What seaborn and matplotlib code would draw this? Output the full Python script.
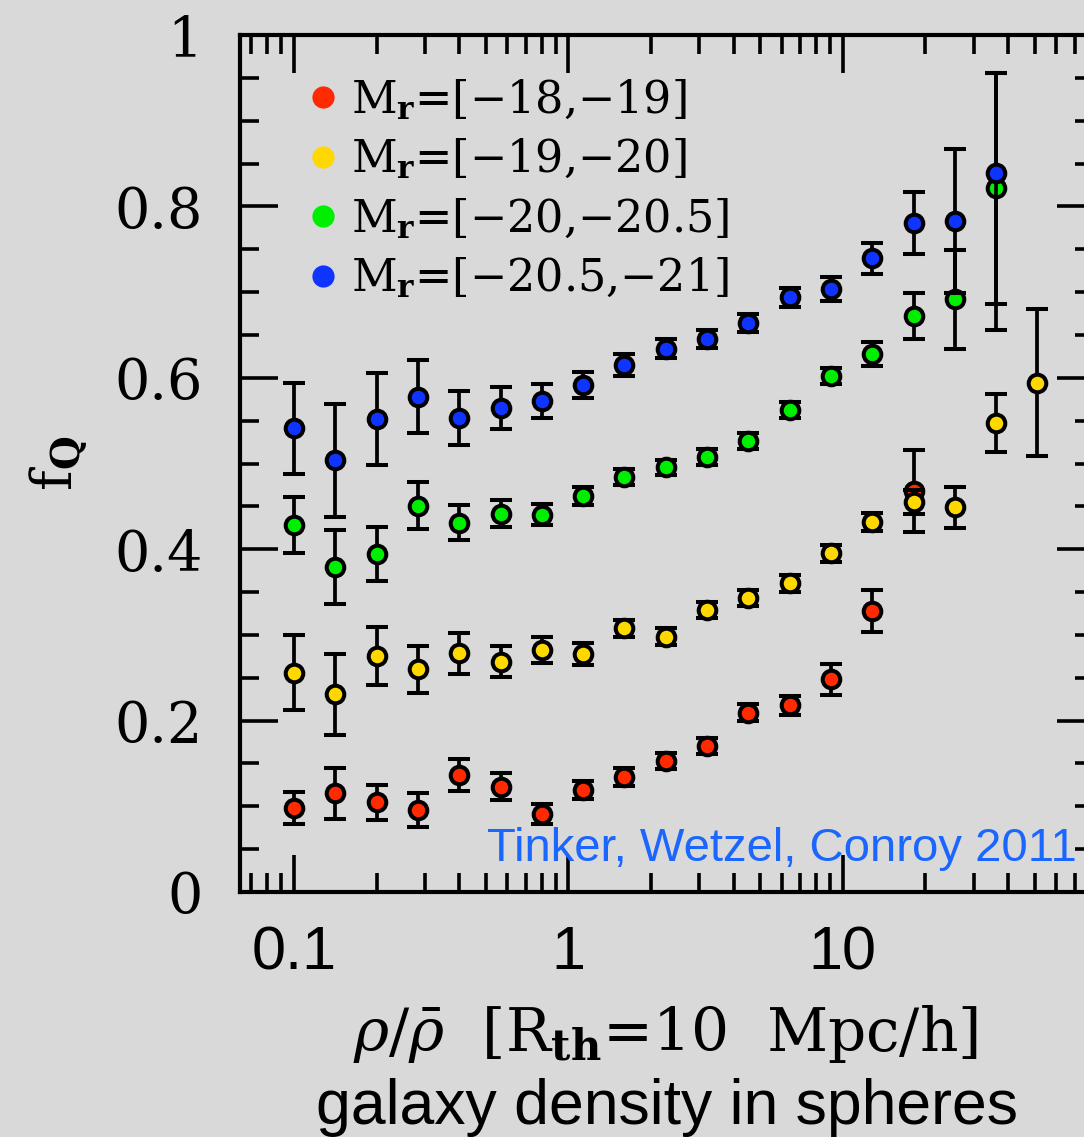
import matplotlib
matplotlib.use("Agg")
import matplotlib.pyplot as plt
import seaborn as sns
from matplotlib.lines import Line2D
from matplotlib.ticker import LogLocator, MultipleLocator, NullFormatter

# ---------------- data ----------------
density = [0.1, 0.141, 0.2, 0.283, 0.4, 0.566, 0.8, 1.13, 1.6, 2.26,
           3.2, 4.53, 6.4, 9.05, 12.8, 18.1, 25.6, 36.2, 51.2]

red_fq = [0.0975, 0.115, 0.1046, 0.0957, 0.1369, 0.1228, 0.0913, 0.119,
          0.1338, 0.1529, 0.1704, 0.2092, 0.2178, 0.248, 0.3283, 0.4676]
red_err = [0.0187, 0.0296, 0.0205, 0.0193, 0.0188, 0.016, 0.0114, 0.0101,
           0.0106, 0.0098, 0.0097, 0.0097, 0.0113, 0.0178, 0.0245, 0.0478]

yellow_fq = [0.256, 0.2306, 0.2754, 0.2598, 0.2785, 0.2684, 0.2827, 0.2777,
             0.3077, 0.2979, 0.329, 0.3433, 0.3601, 0.395, 0.432, 0.4546,
             0.4487, 0.547, 0.5943]
yellow_err = [0.0436, 0.0473, 0.0339, 0.0272, 0.0237, 0.0181, 0.0154, 0.0126,
              0.0098, 0.0099, 0.0097, 0.0094, 0.0098, 0.0099, 0.0105, 0.014,
              0.0237, 0.0337, 0.086]

green_fq = [0.4286, 0.3788, 0.3944, 0.4507, 0.431, 0.4416, 0.4404, 0.4624,
            0.4842, 0.4955, 0.5076, 0.5258, 0.5624, 0.6021, 0.6278, 0.6725,
            0.6915, 0.821]
green_err = [0.0325, 0.0432, 0.031, 0.0277, 0.0204, 0.016, 0.0127, 0.0104,
             0.0088, 0.0087, 0.0092, 0.0094, 0.009, 0.0091, 0.0141, 0.027,
             0.058, 0.135]

blue_fq = [0.541, 0.504, 0.5516, 0.578, 0.553, 0.5648, 0.5725, 0.592,
           0.615, 0.634, 0.645, 0.6643, 0.6938, 0.7036, 0.7393, 0.7806,
           0.783, 0.8386]
blue_err_lo = [0.0535, 0.066, 0.0538, 0.0425, 0.0318, 0.0245, 0.0197, 0.0153,
               0.0133, 0.0111, 0.0103, 0.0103, 0.0107, 0.0136, 0.0185, 0.0358,
               0.0836, 0.183]
blue_err_hi = [0.0535, 0.066, 0.0538, 0.0425, 0.0318, 0.0245, 0.0197, 0.0153,
               0.0133, 0.0111, 0.0103, 0.0103, 0.0107, 0.0136, 0.0185, 0.0358,
               0.0836, 0.117]

labels = [r"M$_{\mathbf{r}}$=[−18,−19]",
          r"M$_{\mathbf{r}}$=[−19,−20]",
          r"M$_{\mathbf{r}}$=[−20,−20.5]",
          r"M$_{\mathbf{r}}$=[−20.5,−21]"]
colors = ["#ff2a00", "#ffd800", "#00ee00", "#1034ff"]

xtick_vals = [0.1, 1, 10]
xtick_labels = ["0.1", "1", "10"]
ytick_vals = [0, 0.2, 0.4, 0.6, 0.8, 1.0]
ytick_labels = ["0", "0.2", "0.4", "0.6", "0.8", "1"]

# ---------------- style ----------------
sns.set_style("ticks")
plt.rcParams["font.family"] = ["DejaVu Serif", "DejaVu Sans"]
plt.rcParams["mathtext.fontset"] = "dejavuserif"
for key in ["text.color", "axes.labelcolor", "xtick.color", "ytick.color",
            "xtick.labelcolor", "ytick.labelcolor"]:
    plt.rcParams[key] = "black"

BG = "#d9d9d9"
W, H = 1084, 1137
fig = plt.figure(figsize=(W / 100, H / 100), dpi=100, facecolor=BG)
L, R, T, B = 240, 1094, 35, 892
ax = fig.add_axes([L / W, 1 - B / H, (R - L) / W, (B - T) / H])
ax.set_facecolor(BG)

series = [
    (red_fq, [red_err, red_err]),
    (yellow_fq, [yellow_err, yellow_err]),
    (green_fq, [green_err, green_err]),
    (blue_fq, [blue_err_lo, blue_err_hi]),
]

ax.set_xscale("log")
for i, ((fq, err), col) in enumerate(zip(series, colors)):
    xs = density[:len(fq)]
    ax.errorbar(xs, fq, yerr=err, fmt="none", ecolor="black",
                elinewidth=2.7, capsize=7.8, capthick=2.9, zorder=3 + 2 * i)
    sns.scatterplot(x=xs, y=fq, color=col, s=160, edgecolor="black",
                    linewidth=2.9, zorder=4 + 2 * i, ax=ax, legend=False)

ax.set_xlim(0.0636, 82.3)
ax.set_ylim(0, 1)

ax.xaxis.set_major_locator(LogLocator(base=10))
ax.xaxis.set_minor_locator(LogLocator(base=10, subs=range(2, 10)))
ax.xaxis.set_minor_formatter(NullFormatter())
ax.set_xticks(xtick_vals, labels=xtick_labels, fontsize=44, fontfamily="Liberation Sans")
ax.yaxis.set_minor_locator(MultipleLocator(0.05))
ax.set_yticks(ytick_vals, labels=ytick_labels, fontsize=40, fontfamily="DejaVu Serif")

ax.tick_params(which="both", direction="in", top=True, right=True,
               width=2.6, color="black", labelcolor="black")
ax.tick_params(which="major", length=27)
ax.tick_params(which="minor", length=14)
ax.tick_params(axis="x", which="major", pad=24)
ax.tick_params(axis="y", which="major", pad=27)
for sp in ax.spines.values():
    sp.set_linewidth(3)
    sp.set_color("black")
ax.set_xlabel("")
ax.set_ylabel("")

# legend
handles = [Line2D([], [], marker="o", linestyle="none", markersize=16,
                  markerfacecolor=c, markeredgewidth=0) for c in colors]
ax.legend(handles, labels, loc="upper left", bbox_to_anchor=(0.081, 0.951),
          frameon=False, prop={"family": "DejaVu Serif", "size": 32},
          handlelength=0.6, handletextpad=0.33, labelspacing=0.33,
          borderaxespad=0, borderpad=0, labelcolor="black")

# axis labels / annotation
fig.text(59 / W, 1 - 463 / H, r"f$_{\mathbf{Q}}$", rotation=90, ha="center",
         va="center", fontsize=40, family="DejaVu Serif", color="black")
fig.text(665 / W, 1 - 1051 / H, r"$\rho/\bar{\rho}$  [R$_{\mathbf{th}}$=10  Mpc/h]",
         ha="center", va="baseline", fontsize=43, family="DejaVu Serif", color="black")
fig.text(667 / W, 1 - 1124 / H, "galaxy density in spheres", ha="center",
         va="baseline", fontsize=45, family="Liberation Sans", color="black")
fig.text(1077 / W, 1 - 861 / H, "Tinker, Wetzel, Conroy 2011", ha="right",
         va="baseline", fontsize=34, family="Liberation Sans", color="#1a66ff")

fig.savefig("out.png", dpi=100, facecolor=BG)
